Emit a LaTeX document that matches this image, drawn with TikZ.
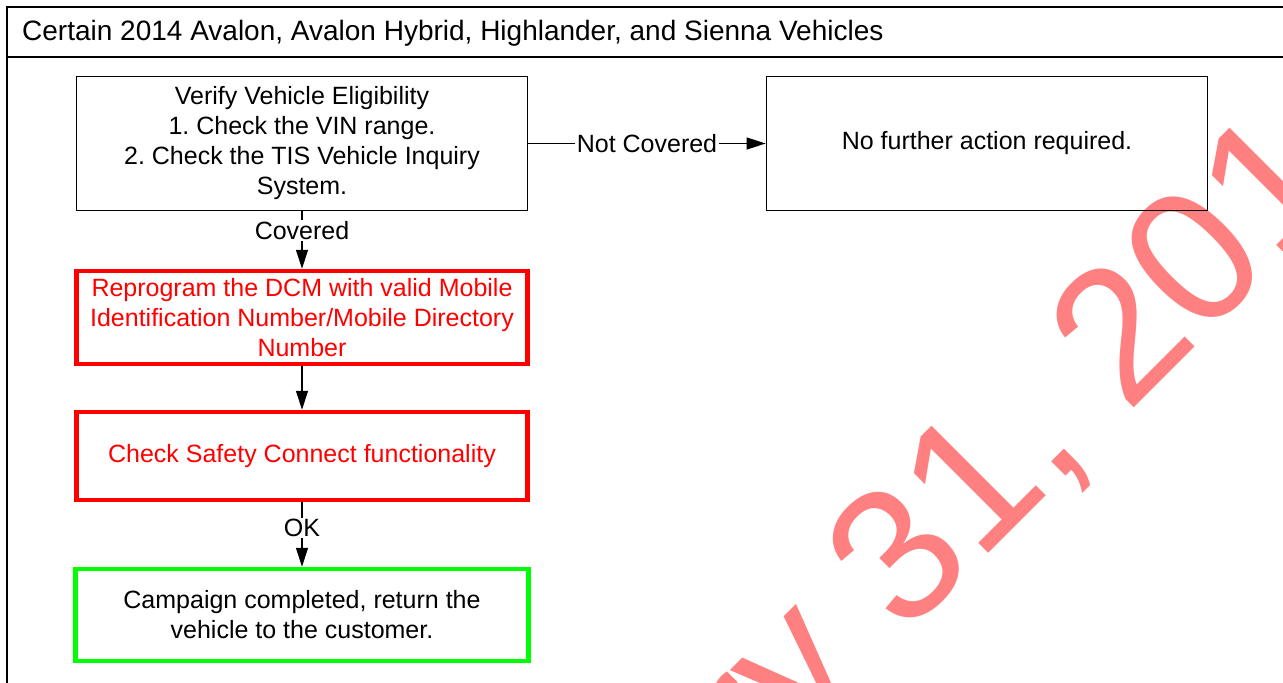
\documentclass[tikz,border=0pt]{standalone}
\usepackage{fontspec}
\setmainfont{Liberation Sans}
\frenchspacing
\usetikzlibrary{arrows.meta}
\definecolor{wm}{RGB}{255,128,128}
\definecolor{boxred}{RGB}{255,0,0}
\definecolor{boxgreen}{RGB}{0,255,0}
\tikzset{
  every node/.style={font=\fontsize{25}{30}\selectfont},
  plainbox/.style={draw=black, line width=1.8pt, align=center, inner sep=0pt},
  redbox/.style={draw=boxred, line width=4.5pt, align=center, inner sep=0pt, text=boxred},
  greenbox/.style={draw=boxgreen, line width=4.5pt, align=center, inner sep=0pt},
  conn/.style={draw=black, line width=1.2pt, -{Triangle[length=19pt,width=12pt]}},
  lbl/.style={fill=white, inner sep=1.5pt},
}
\begin{document}
\begin{tikzpicture}[x=1pt,y=-1pt]
\useasboundingbox (0,0) rectangle (1283,683);
\clip (0,0) rectangle (1283,683);
\fill[white] (0,0) rectangle (1283,683);
% watermark
\node[anchor=base west, rotate=45, inner sep=0pt, text=wm,
      font=\fontsize{189}{189}\selectfont] (wmark) at (392,1150) {January 31, 2014};
% frame
\draw[line width=2.2pt] (7,720) -- (7,7) -- (1320,7);
\draw[line width=2.2pt] (7,57) -- (1320,57);
\node[anchor=west, inner sep=0pt, font=\fontsize{28}{30}\selectfont] (title) at (22,33) {Certain 2014 Avalon, Avalon Hybrid, Highlander, and Sienna Vehicles};
% boxes
\node[plainbox, minimum width=451pt, minimum height=134pt] (A) at (302,143.5)
  {Verify Vehicle Eligibility\\1. Check the VIN range.\\2. Check the TIS Vehicle Inquiry\\System.};
\node[plainbox, minimum width=441pt, minimum height=134pt] (B) at (987,143.5)
  {No further action required.};
\node[redbox, minimum width=451pt, minimum height=93pt] (C) at (302,317.5)
  {Reprogram the DCM with valid Mobile\\Identification Number/Mobile Directory\\Number};
\node[redbox, minimum width=451pt, minimum height=88pt] (D) at (302,456)
  {Check Safety Connect functionality};
\node[greenbox, minimum width=453pt, minimum height=92pt] (E) at (302,615)
  {Campaign completed, return the\\vehicle to the customer.};
% connectors
\draw[conn] (A.east) -- node[lbl, pos=0.5] (lnc) {Not Covered} (B.west);
\draw[conn] (A.south) -- node[lbl, pos=0.33] (lc) {Covered} (C.north);
\draw[conn] (C.south) -- (D.north);
\draw[conn] (D.south) -- node[lbl, pos=0.4] (lok) {OK} (E.north);
\end{tikzpicture}
\end{document}
